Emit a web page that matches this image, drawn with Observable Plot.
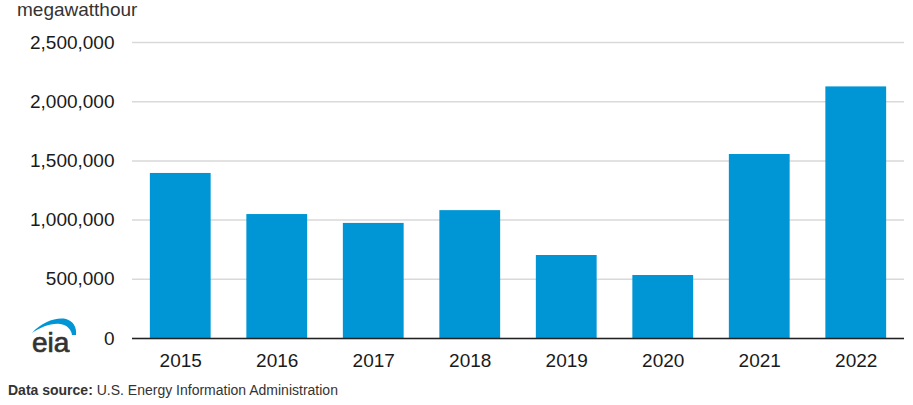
<!DOCTYPE html>
<html>
<head>
<meta charset="utf-8">
<script src="https://cdn.jsdelivr.net/npm/d3@7"></script>
<script src="https://cdn.jsdelivr.net/npm/@observablehq/plot@0.6"></script>
<style>
  html, body { margin: 0; padding: 0; background: #fff; }
  #wrap { position: relative; width: 913px; height: 405px; font-family: "Liberation Sans", Arial, sans-serif; overflow: hidden; }
  #unit { position: absolute; left: 17px; top: 0px; font-size: 19px; line-height: 19px; color: #333; }
  #caption { position: absolute; left: 8px; top: 382px; font-size: 14px; line-height: 16px; color: #333; }
  #logo { position: absolute; left: 0px; top: 300px; }
</style>
</head>
<body>
<div id="wrap">
  <div id="chart"></div>
  <div id="unit">megawatthour</div>
  <svg id="logo" width="100" height="60" viewBox="0 0 100 60">
    <path d="M32 33 C 42 22, 56 17, 66 19 C 73 21, 77 27, 76 35 L 72 35 C 71 29, 67 25, 60 24 C 51 23, 41 27, 32 33 Z" fill="#0096d6"/>
    <text x="32" y="52" font-family="Liberation Sans, Arial, sans-serif" font-size="28" fill="#333" stroke="#333" stroke-width="0.7">eia</text>
  </svg>
  <div id="caption"><b>Data source:</b> U.S. Energy Information Administration</div>
</div>
<script>
const years = ["2015", "2016", "2017", "2018", "2019", "2020", "2021", "2022"];
const generation = [1394000, 1047000, 972000, 1080000, 701000, 532000, 1554000, 2125000];
const yTicks = [0, 500000, 1000000, 1500000, 2000000, 2500000];

const data = years.map((year, i) => ({year, value: generation[i]}));

const chart = Plot.plot({
  width: 913,
  height: 380,
  marginTop: 42,
  marginBottom: 42,
  marginLeft: 132,
  marginRight: 9,
  style: {fontFamily: "Liberation Sans, Arial, sans-serif", fontSize: "19px", color: "#1a1a1a", background: "#fff"},
  x: {domain: years, paddingInner: 0.37, paddingOuter: 0.185, round: false, tickSize: 0, tickPadding: 15, label: null},
  y: {domain: [0, 2500000], ticks: yTicks, tickFormat: d3.format(","), tickSize: 0, tickPadding: 18, label: null},
  marks: [
    Plot.ruleY(yTicks, {stroke: "#d9d9d9", strokeWidth: 1.5}),
    Plot.barY(data, {x: "year", y: "value", fill: "#0096d6"}),
    Plot.ruleY([0], {stroke: "#222", strokeWidth: 1.5})
  ]
});
document.getElementById("chart").appendChild(chart);
</script>
</body>
</html>
